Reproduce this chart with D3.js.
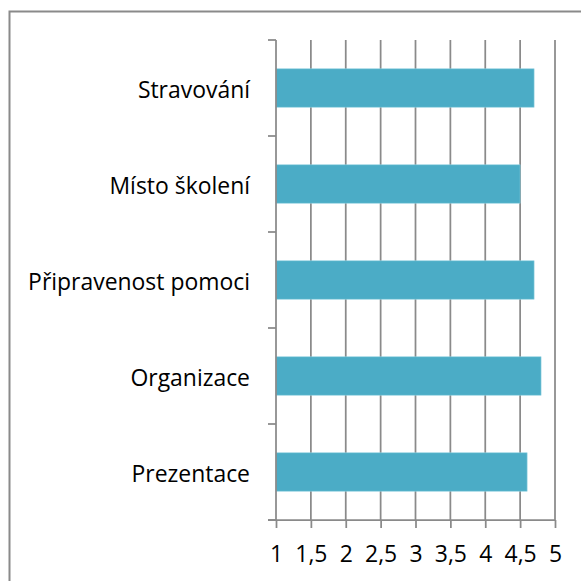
<!DOCTYPE html>
<html>
<head>
<meta charset="utf-8">
<script src="https://cdn.jsdelivr.net/npm/d3@7"></script>
<style>
  html, body { margin: 0; padding: 0; background: #fff; }
  svg { display: block; }
  text { font-family: "Open Sans", "Noto Sans", sans-serif; fill: #000; }
</style>
</head>
<body>
<svg id="chart" width="581" height="581"></svg>
<script>
// Data
const categories = ["Stravování", "Místo školení", "Připravenost pomoci", "Organizace", "Prezentace"];
const values = [4.7, 4.5, 4.7, 4.8, 4.6];
const xTicks = [1, 1.5, 2, 2.5, 3, 3.5, 4, 4.5, 5];
const xTickLabels = ["1", "1,5", "2", "2,5", "3", "3,5", "4", "4,5", "5"];

(function () {
const svg = d3.select("#chart");
const pLeft = 276, pRight = 555, pTop = 40, pBottom = 520;
const gridColor = "#8a8a8a";
const font = "'Open Sans', 'Noto Sans', sans-serif";

// outer frame (right/bottom edges lie beyond the canvas)
svg.append("rect").attr("x", 9.5).attr("y", 11.5).attr("width", 600).attr("height", 600)
  .attr("fill", "#fff").attr("stroke", "#8a8a8a").attr("stroke-width", 2);

const x = d3.scaleLinear().domain([1, 5]).range([pLeft, pRight]);
const y = d3.scaleBand().domain(categories).range([pTop, pBottom]).paddingInner(0.6).paddingOuter(0.3);
const yb = d3.scaleBand().domain(categories).range([pTop, pBottom]);

// font size fitting
const probe = svg.append("text").attr("font-size", 20).attr("font-family", font).text("Připravenost pomoci");
const w = probe.node().getComputedTextLength();
probe.remove();
const fs = 20 * 222 / w;

// gridlines
svg.append("g").selectAll("line").data(xTicks.slice(1)).join("line")
  .attr("x1", d => x(d)).attr("x2", d => x(d))
  .attr("y1", pTop).attr("y2", pBottom)
  .attr("stroke", gridColor).attr("stroke-width", 1.75);

// bars
svg.append("g").selectAll("rect").data(categories).join("rect")
  .attr("x", x(1))
  .attr("y", d => y(d))
  .attr("width", (d, i) => x(values[i]) - x(1))
  .attr("height", y.bandwidth())
  .attr("fill", "#4bacc6")
  .attr("stroke", "#8fd0e0").attr("stroke-width", 0.6);

// x axis
const xAxis = d3.axisBottom(x).tickValues(xTicks).tickSize(8)
  .tickFormat((d, i) => xTickLabels[i]).tickSizeOuter(0);
const gx = svg.append("g").attr("transform", `translate(0,${pBottom})`).call(xAxis);
gx.select(".domain").attr("stroke", gridColor).attr("stroke-width", 1.75)
  .attr("d", `M${pLeft - 8},0H${pRight}`);
gx.selectAll(".tick line").attr("stroke", gridColor).attr("stroke-width", 1.75);
gx.selectAll(".tick text").attr("font-size", fs).attr("font-family", font)
  .attr("fill", "#000").attr("y", 0).attr("dy", 0)
  .attr("transform", "translate(0,42)");

// y axis
const yAxis = d3.axisLeft(yb).tickSize(0).tickPadding(26);
const gy = svg.append("g").attr("transform", `translate(${pLeft},0)`).call(yAxis);
gy.select(".domain").attr("stroke", gridColor).attr("stroke-width", 1.75)
  .attr("d", `M0,${pTop}V${pBottom}`);
gy.selectAll(".tick text").attr("font-size", fs).attr("font-family", font)
  .attr("fill", "#000").attr("dy", "0.45em").attr("x", -26);
// category boundary ticks
svg.append("g").selectAll("line").data(d3.range(categories.length + 1)).join("line")
  .attr("x1", pLeft - 8).attr("x2", pLeft)
  .attr("y1", i => pTop + i * yb.step()).attr("y2", i => pTop + i * yb.step())
  .attr("stroke", gridColor).attr("stroke-width", 1.75);
})();
</script>
</body>
</html>
